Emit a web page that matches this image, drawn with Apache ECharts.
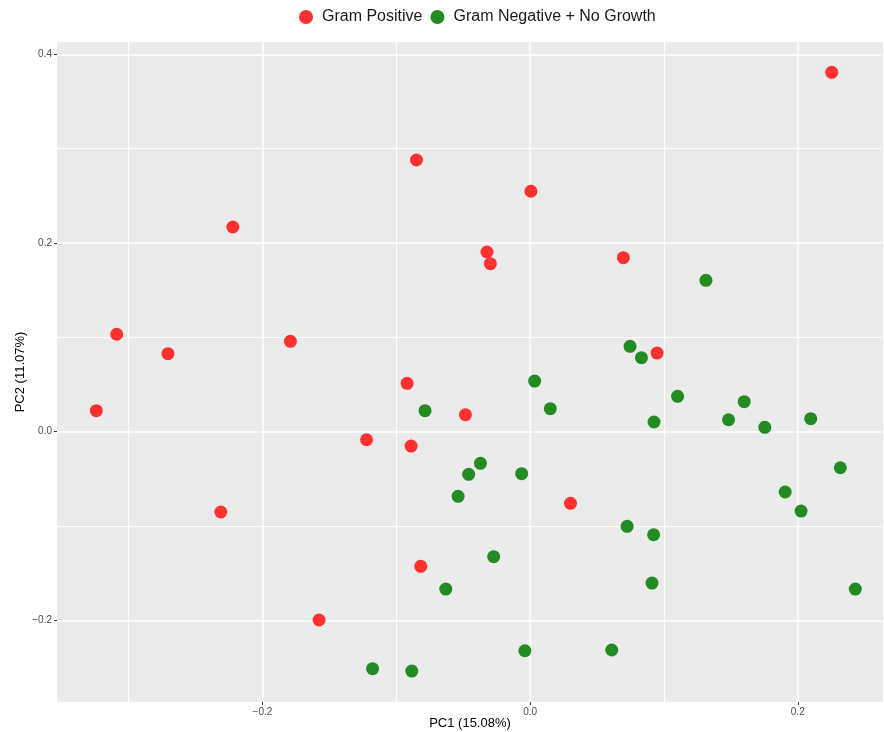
<!DOCTYPE html>
<html>
<head>
<meta charset="utf-8">
<script src="https://cdn.jsdelivr.net/npm/echarts@6/dist/echarts.min.js"></script>
<style>
  html, body { margin: 0; padding: 0; background: #fff; }
  #main { width: 884px; height: 732px; }
</style>
</head>
<body>
<div id="main"></div>
<script>
// PCA scores: [PC1, PC2]
var gramPositive = [
    [-0.2221, 0.2170], [-0.3089, 0.1033], [-0.2706, 0.0827], [-0.1791, 0.0958],
    [-0.0849, 0.2880], [0.0006, 0.2549], [-0.0322, 0.1905], [-0.0297, 0.1781],
    [0.2254, 0.3810], [0.0697, 0.1845], [0.0949, 0.0834],
    [-0.3241, 0.0223], [-0.2311, -0.0851], [-0.1577, -0.1996],
    [-0.0919, 0.0513], [-0.0483, 0.0180], [-0.1222, -0.0085], [-0.0889, -0.0152],
    [0.0302, -0.0759], [-0.0817, -0.1427]
];
var gramNegative = [
    [0.1314, 0.1605], [0.0747, 0.0905], [0.0832, 0.0785],
    [0.0034, 0.0537], [-0.0785, 0.0223], [0.0151, 0.0244], [-0.0371, -0.0335],
    [-0.0459, -0.0452], [-0.0063, -0.0445], [-0.0538, -0.0685], [-0.0272, -0.1325],
    [-0.0630, -0.1668], [-0.0039, -0.2322], [0.0610, -0.2314], [-0.1177, -0.2512],
    [-0.0884, -0.2537],
    [0.1102, 0.0375], [0.1600, 0.0318], [0.0926, 0.0103], [0.1483, 0.0127],
    [0.1754, 0.0047], [0.2097, 0.0138], [0.2318, -0.0382], [0.1906, -0.0639],
    [0.2025, -0.0841], [0.0725, -0.1003], [0.0923, -0.1092], [0.0911, -0.1604],
    [0.2430, -0.1668]
];

var seriesNames = ['Gram Positive', 'Gram Negative + No Growth'];
var xMajor = [-0.2, 0, 0.2];
var xMinor = [-0.3, -0.1, 0.1];
var yMajor = [-0.2, 0, 0.2, 0.4];
var yMinor = [-0.1, 0.1, 0.3];
var xRange = [-0.3535, 0.2637];
var yRange = [-0.2865, 0.4131];

function fmt(v) {
    return v.toFixed(1).replace('-', '\u2212');
}

function majorAxis(ticks, range, extra) {
    var ax = {
        type: 'value',
        min: range[0],
        max: range[1],
        nameLocation: 'middle',
        nameMoveOverlap: false,
        nameTextStyle: { color: '#000', fontSize: 13, fontFamily: 'Liberation Sans' },
        axisLine: { show: false, onZero: false },
        axisTick: { show: true, customValues: ticks, length: 3, lineStyle: { color: '#333', width: 1 } },
        axisLabel: {
            customValues: ticks, color: '#4d4d4d', fontSize: 10, margin: 5,
            fontFamily: 'Liberation Sans', formatter: fmt
        },
        splitLine: { show: true, lineStyle: { color: '#fff', width: 1.5 } }
    };
    for (var k in extra) ax[k] = extra[k];
    return ax;
}

function minorAxis(ticks, range, pos) {
    return {
        type: 'value',
        position: pos,
        min: range[0],
        max: range[1],
        axisLine: { show: false, onZero: false },
        axisTick: { show: false, customValues: ticks },
        axisLabel: { show: false, customValues: ticks },
        splitLine: { show: true, lineStyle: { color: '#fff', width: 1 } }
    };
}

var myChart = echarts.init(document.getElementById('main'));
var option = {
    animation: false,
    backgroundColor: '#fff',
    legend: {
        top: 4,
        left: 294,
        data: seriesNames,
        icon: 'circle',
        itemWidth: 14,
        itemHeight: 14,
        itemGap: 8,
        textStyle: { color: '#1a1a1a', fontSize: 16, fontFamily: 'Liberation Sans', padding: [0, 0, 0, 4] }
    },
    grid: {
        left: 57,
        right: 1,
        top: 42,
        bottom: 30,
        outerBoundsMode: 'none',
        containLabel: false,
        backgroundColor: '#ebebeb',
        show: true,
        borderWidth: 0
    },
    xAxis: [
        majorAxis(xMajor, xRange, { name: 'PC1 (15.08%)', nameGap: 15, position: 'bottom' }),
        minorAxis(xMinor, xRange, 'bottom')
    ],
    yAxis: [
        majorAxis(yMajor, yRange, { name: 'PC2 (11.07%)', nameGap: 30, position: 'left' }),
        minorAxis(yMinor, yRange, 'left')
    ],
    series: [{
        name: seriesNames[0],
        type: 'scatter',
        symbolSize: 13,
        itemStyle: { color: '#ff3030', opacity: 1 },
        data: gramPositive
    }, {
        name: seriesNames[1],
        type: 'scatter',
        symbolSize: 13,
        itemStyle: { color: '#228b22', opacity: 1 },
        data: gramNegative
    }]
};
if (option && typeof option === "object") {
    myChart.setOption(option, true);
}
</script>
</body>
</html>
